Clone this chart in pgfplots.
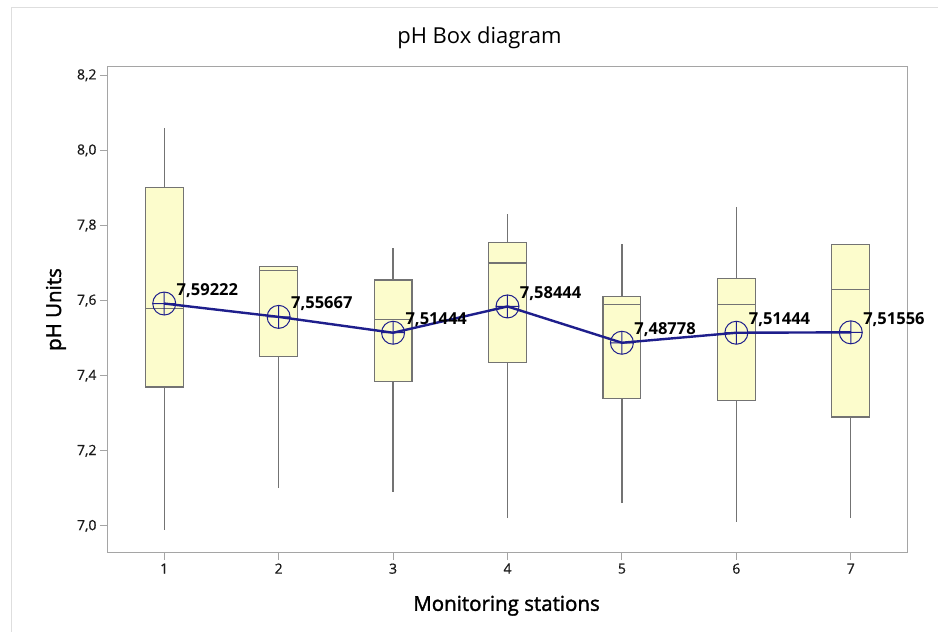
\documentclass[border=0pt]{standalone}
\usepackage{fontspec}
\setmainfont{Open Sans}
\newfontfamily\semib[FakeBold=1.6]{Open Sans}
\newfontfamily\tickf[FakeBold=0.6]{Open Sans}
\usepackage{pgfplots}
\pgfplotsset{compat=1.18}
\usepgfplotslibrary{statistics}
\definecolor{boxfill}{RGB}{252,252,204}
\definecolor{boxedge}{RGB}{115,115,115}
\definecolor{navyline}{RGB}{30,30,140}
\definecolor{framegray}{RGB}{165,165,165}
\definecolor{bordergray}{RGB}{222,222,222}
\newcommand{\bx}[6]{\addplot[draw=boxedge, fill=boxfill, line width=1.1pt,
  boxplot prepared={draw position=#1, lower whisker=#2, lower quartile=#3,
  median=#4, upper quartile=#5, upper whisker=#6}] coordinates {};}
\begin{document}
\begin{tikzpicture}[x=1pt,y=1pt]
\useasboundingbox (0,0) rectangle (938,632);
\fill[white] (0,0) rectangle (938,632);
\draw[bordergray, line width=1pt] (11.5,0) -- (11.5,624.5) -- (938,624.5);
\begin{axis}[
  at={(107pt,79pt)}, anchor=south west,
  width=801pt, height=486pt, scale only axis,
  xmin=0.5, xmax=7.5, ymin=6.928, ymax=8.222,
  xtick={1,2,3,4,5,6,7},
  ytick={7.0,7.2,7.4,7.6,7.8,8.0,8.2},
  /pgf/number format/assume math mode=true,
  yticklabel style={/pgf/number format/.cd, fixed, fixed zerofill, precision=1, use comma},
  tick label style={font=\fontsize{14}{16}\tickf, text=black!90},
  tick align=outside, tick pos=left, major tick length=7pt,
  tick style={framegray, line width=1pt},
  axis line style={framegray, line width=1pt},
  title={pH Box diagram},
  title style={font=\fontsize{22}{26}\selectfont, at={(axis description cs:0.465,1.035)}, anchor=base},
  xlabel={Monitoring stations},
  xlabel style={font=\fontsize{20.5}{24}\semib, at={(axis description cs:0.4988,-0.119)}, anchor=base},
  ylabel={pH Units},
  ylabel style={font=\fontsize{20.5}{24}\semib, at={(axis description cs:-0.0637,0.501)}, anchor=center, rotate=0},
  boxplot/draw direction=y,
  boxplot/box extend=0.33,
  boxplot/whisker extend=0,
  boxplot/every whisker/.style={draw=boxedge, line width=1.3pt},
  boxplot/every median/.style={draw=boxedge, line width=1.1pt},
  clip=false,
]
\bx{1}{6.99}{7.37}{7.58}{7.90}{8.06}
\bx{2}{7.10}{7.45}{7.68}{7.69}{7.69}
\bx{3}{7.09}{7.385}{7.55}{7.655}{7.74}
\bx{4}{7.02}{7.435}{7.70}{7.755}{7.83}
\bx{5}{7.06}{7.34}{7.59}{7.61}{7.75}
\bx{6}{7.01}{7.335}{7.59}{7.66}{7.85}
\bx{7}{7.02}{7.29}{7.63}{7.75}{7.75}
\addplot[navyline, line width=2.4pt, mark=oplus, mark size=11.5pt,
  mark options={line width=1pt, solid, navyline},
  point meta=y,
  nodes near coords={\pgfmathprintnumber[fixed, fixed zerofill, precision=5, use comma]{\pgfplotspointmeta}},
  every node near coord/.style={anchor=base west, xshift=12pt, yshift=8pt, inner sep=0pt,
    font=\fontsize{16.5}{18}\selectfont\bfseries, text=black},
] coordinates {
  (1,7.59222) (2,7.55667) (3,7.51444) (4,7.58444) (5,7.48778) (6,7.51444) (7,7.51556)
};
\end{axis}
\end{tikzpicture}
\end{document}
